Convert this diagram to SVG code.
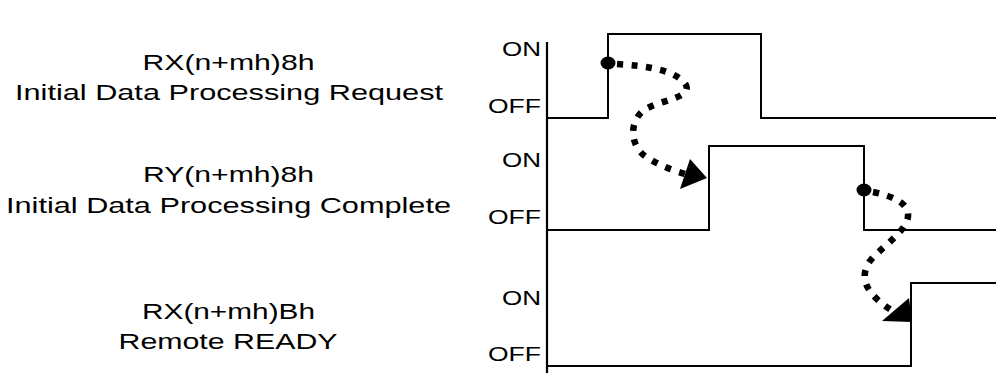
<svg xmlns="http://www.w3.org/2000/svg" width="996" height="377" viewBox="0 0 996 377">
  <defs>
    <style>
      .lbl { font-family: "Liberation Sans", Arial, sans-serif; font-size: 22px; fill: #000; text-anchor: middle; }
      .lvl { font-family: "Liberation Sans", Arial, sans-serif; font-size: 19.5px; fill: #000; text-anchor: end; }
      .sig { fill: none; stroke: #000; stroke-width: 2; }
      .axis { fill: none; stroke: #000; stroke-width: 2.2; }
      .flow { fill: none; stroke: #000; stroke-width: 6.5; stroke-dasharray: 6 8.5; }
      .head { fill: #000; }
    </style>
  </defs>

  <!-- signal names -->
  <g id="label-request">
    <text class="lbl" x="228.5" y="70" textLength="172" lengthAdjust="spacingAndGlyphs">RX(n+mh)8h</text>
    <text class="lbl" x="229" y="100" textLength="428" lengthAdjust="spacingAndGlyphs">Initial Data Processing Request</text>
  </g>
  <g id="label-complete">
    <text class="lbl" x="228.5" y="182" textLength="171" lengthAdjust="spacingAndGlyphs">RY(n+mh)8h</text>
    <text class="lbl" x="228.5" y="213" textLength="445" lengthAdjust="spacingAndGlyphs">Initial Data Processing Complete</text>
  </g>
  <g id="label-ready">
    <text class="lbl" x="228.5" y="319" textLength="173" lengthAdjust="spacingAndGlyphs">RX(n+mh)Bh</text>
    <text class="lbl" x="228" y="349" textLength="219" lengthAdjust="spacingAndGlyphs">Remote READY</text>
  </g>

  <!-- ON / OFF levels -->
  <g id="levels">
    <text class="lvl" x="541" y="56" textLength="39" lengthAdjust="spacingAndGlyphs">ON</text>
    <text class="lvl" x="541" y="113" textLength="53" lengthAdjust="spacingAndGlyphs">OFF</text>
    <text class="lvl" x="541" y="167" textLength="39" lengthAdjust="spacingAndGlyphs">ON</text>
    <text class="lvl" x="541" y="224" textLength="53" lengthAdjust="spacingAndGlyphs">OFF</text>
    <text class="lvl" x="541" y="305" textLength="39" lengthAdjust="spacingAndGlyphs">ON</text>
    <text class="lvl" x="541" y="361" textLength="53" lengthAdjust="spacingAndGlyphs">OFF</text>
  </g>

  <!-- time axis -->
  <g id="axis">
    <line class="axis" x1="547" y1="42" x2="547" y2="373"/>
  </g>

  <!-- waveforms -->
  <g id="wave-request">
    <polyline class="sig" points="548,118 608,118 608,34 761,34 761,118 996,118"/>
  </g>
  <g id="wave-complete">
    <polyline class="sig" points="548,230 709,230 709,146 864,146 864,230 996,230"/>
  </g>
  <g id="wave-ready">
    <polyline class="sig" points="548,366 911,366 911,283 996,283"/>
  </g>

  <!-- handshake connectors: dotted path ends tucked under the arrowheads -->
  <g id="connectors">
    <ellipse cx="608" cy="63" rx="7.5" ry="6.5" class="head"/>
    <path class="flow" d="M617,64 C648,66 676,70 686,85 C692,98 660,100 644,110 C628,122 630,148 648,158 C662,167 678,172 692,176"/>
    <polygon class="head" points="690,159 707,178 680,189"/>

    <ellipse cx="864" cy="190" rx="7.5" ry="6.5" class="head"/>
    <path class="flow" d="M873,192 C892,196 906,202 908,213 C910,230 882,246 870,261 C858,278 866,296 898,314"/>
    <polygon class="head" points="909,298 912,322 882,321"/>
  </g>
</svg>
